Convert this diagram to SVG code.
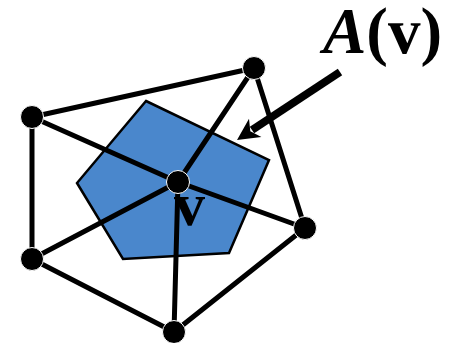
<svg xmlns="http://www.w3.org/2000/svg" width="460" height="343" viewBox="0 0 460 343">
<style>
.edge{stroke:#000;stroke-width:5;fill:none;stroke-linecap:round}
.node{fill:#000;stroke:#fff;stroke-width:1}
.lbl{font-family:"Liberation Serif",serif;font-weight:bold;fill:#000}
</style>
<rect width="460" height="343" fill="#fff"/>
<g id="region">
<polygon points="146,101 269,160 229,253 123,259 77,183" fill="#4a87cc" stroke="#000" stroke-width="2.5" stroke-linejoin="miter"/>
</g>
<g id="label-v"><text class="lbl" x="174" y="225" font-size="62">v</text></g>
<g id="connectors">
<line class="edge" x1="32" y1="117" x2="254" y2="68"/>
<line class="edge" x1="32" y1="117" x2="178" y2="182"/>
<line class="edge" x1="32" y1="117" x2="32" y2="259"/>
<line class="edge" x1="178" y1="182" x2="254" y2="68"/>
<line class="edge" x1="254" y1="68" x2="305" y2="228"/>
<line class="edge" x1="178" y1="182" x2="305" y2="228"/>
<line class="edge" x1="178" y1="182" x2="32" y2="259"/>
<line class="edge" x1="178" y1="182" x2="174" y2="332"/>
<line class="edge" x1="32" y1="259" x2="174" y2="332"/>
<line class="edge" x1="174" y1="332" x2="305" y2="228"/>
</g>
<g id="arrow">
<line x1="340" y1="72" x2="252" y2="130" stroke="#000" stroke-width="8"/>
<polygon points="237,140 249,118.7 250.3,131.2 261.4,137.1" fill="#000"/>
</g>
<g id="n-v"><circle class="node" cx="178" cy="182" r="11.5"/></g>
<g id="n-tl"><circle class="node" cx="32" cy="117" r="11.5"/></g>
<g id="n-top"><circle class="node" cx="254" cy="68" r="11.5"/></g>
<g id="n-right"><circle class="node" cx="305" cy="228" r="11.5"/></g>
<g id="n-bottom"><circle class="node" cx="174" cy="332" r="11.5"/></g>
<g id="n-bl"><circle class="node" cx="32" cy="259" r="11.5"/></g>
<g id="label-A"><text class="lbl" x="323" y="53" font-size="65"><tspan font-style="italic">A</tspan>(v)</text></g>
</svg>
